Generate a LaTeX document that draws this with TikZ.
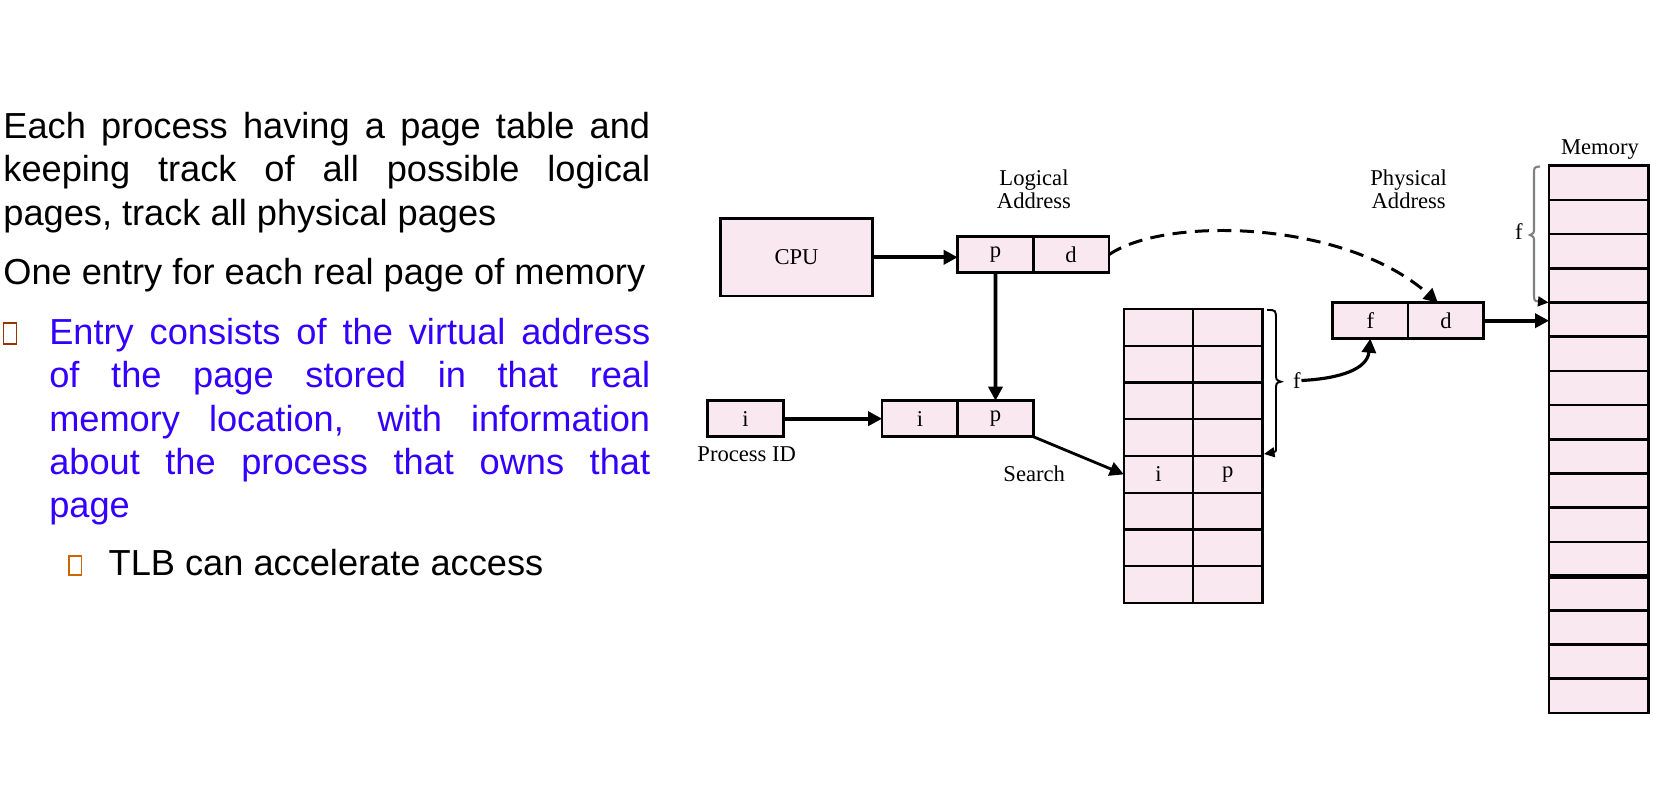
\documentclass[tikz,border=0pt]{standalone}
\usepackage{fontspec}
\setmainfont{Liberation Sans}
\newfontfamily\timesfont{Liberation Serif}
\usetikzlibrary{positioning,arrows.meta}

\definecolor{pagepink}{RGB}{250,232,240}
\definecolor{slideblue}{RGB}{51,0,255}
\definecolor{bulletbrown}{RGB}{153,51,0}
\definecolor{bulletorange}{RGB}{204,102,0}
\definecolor{bracegray}{RGB}{128,128,128}

\newcommand{\diagfont}{\timesfont\fontsize{6.43}{6.71}\selectfont}
\newcommand{\bodyfont}{\fontsize{10.3}{12.35}\selectfont}

\begin{document}
\begin{tikzpicture}[x=0.1mm, y=-0.1mm,
    cell/.style={draw, fill=pagepink, line width=0.7pt, inner sep=0pt, outer sep=0pt,
        minimum width=7.56mm, minimum height=3.6mm, font=\diagfont},
    lbl/.style={inner sep=0pt, font=\diagfont},
    para/.style={inner sep=0pt, anchor=base west, font=\bodyfont},
    arr/.style={line width=1.05pt, -{Triangle[length=4pt,width=4pt]}},
    bullet/.style={draw, line width=0.4pt, inner sep=0pt}]

    \useasboundingbox (0,0) rectangle (1672,808);

    % slide text
    \node[para, text width=64.68mm, align=justify] (intro) at (2.7,138.3)
        {Each process having a page table and\linebreak
         keeping track of all possible logical\linebreak
         pages, track all physical pages};
    \node[para] (entry) at (2.7,284.5) {One entry for each real page of memory};
    \node[bullet, draw=bulletbrown, minimum width=1.3mm, minimum height=2.1mm] (bulA) at (9.8,333.5) {};
    \node[para, text width=60.09mm, align=justify, text=slideblue] (virt) at (48.6,344.2)
        {Entry consists of the virtual address\linebreak
         of the page stored in that real\linebreak
         memory location, with information\linebreak
         about the process that owns that\linebreak
         page};
    \node[bullet, draw=bulletorange, minimum width=1.25mm, minimum height=1.9mm] (bulB) at (75.3,565.5) {};
    \node[para] (tlb) at (108,575.6) {TLB can accelerate access};

    % addresses
    \node[cell, minimum width=15.16mm, minimum height=7.73mm] (cpu) at (796.5,257.3) {CPU};
    \node[cell] (la-p) at (995.5,254.7) {p};
    \node[cell, right=0pt of la-p] (la-d) {d};
    \node[lbl, align=center, anchor=north] (la-lbl) at (1034,169) {Logical\\Address};

    \node[cell] (pid) at (745.5,418.7) {i};
    \node[lbl, anchor=base] (pid-lbl) at (746.7,461.7) {Process ID};
    \node[cell] (ip-i) at (919.9,418.7) {i};
    \node[cell, right=0pt of ip-i] (ip-p) {p};

    \node[cell] (ph-f) at (1370.3,320.7) {f};
    \node[cell, right=0pt of ph-f] (ph-d) {d};
    \node[lbl, align=center, anchor=north] (ph-lbl) at (1408.7,169) {Physical\\Address};

    % inverted page table
    \foreach \k/\a/\b in {1/{}/{},2/{}/{},3/{}/{},4/{}/{},5/i/p,6/{}/{},7/{}/{},8/{}/{}}
    {
        \node[cell, minimum width=6.93mm, minimum height=3.675mm] (ta\k) at (1158.5,{309+36.75*(\k-0.5)}) {\a};
        \node[cell, minimum width=6.93mm, minimum height=3.675mm, right=0pt of ta\k] (tb\k) {\b};
    }

    % memory
    \foreach \k in {1,...,16}
        \node[cell, minimum width=9.93mm, minimum height=3.42mm] (m\k) at (1598.7,{165.7+34.2*(\k-0.5)}) {};
    \draw[line width=1.4pt] (m12.south west) -- (m12.south east);
    \node[lbl, anchor=base] (mem-lbl) at (1600,155) {Memory};

    % arrows
    \draw[arr] (cpu.east) -- (cpu.east -| la-p.west);
    \draw[arr] (la-p) -- (ip-p);
    \draw[arr] (pid) -- (ip-i);
    \draw[arr, line width=0.8pt] (ip-p.south east) -- (ta5.west);
    \node[lbl, anchor=base] (search) at (1034.2,482) {Search};

    \draw[line width=0.85pt, dash pattern=on 4pt off 2.4pt, -{Triangle[length=4pt,width=4pt]}]
        (la-d.east) .. controls (1165,216) and (1345,220) .. ([xshift=-0.8mm]ph-d.north);
    \draw[arr] (ph-d.east) -- (ph-d.east -| m5.west);

    % brace beside the table
    \draw[line width=0.55pt, -{Triangle[length=3pt,width=2.8pt]}]
        (1267,310) .. controls (1276,310) .. (1276,320) -- (1276,373)
        .. controls (1276,380) .. (1281,381.7) .. controls (1276,383) .. (1276,390)
        -- (1276,443) .. controls (1276,452) .. (1264,454);
    \node[lbl] (fT) at (1297,380.5) {f};
    \draw[arr, line width=0.9pt] (fT.east) .. controls +(40,-2) and +(-3,30) .. (ph-f.south);

    % brace beside the memory
    \draw[bracegray, line width=0.6pt, -{Triangle[length=3pt,width=2.8pt,color=black]}]
        (1540,166.5) .. controls (1534,167) .. (1534,175) -- (1534,228)
        .. controls (1534,233) .. (1530,235) .. controls (1534,237) .. (1534,242)
        -- (1534,292) .. controls (1534,301) .. (1548.5,302.5);
    \node[lbl] (fM) at (1519,232) {f};

\end{tikzpicture}
\end{document}
